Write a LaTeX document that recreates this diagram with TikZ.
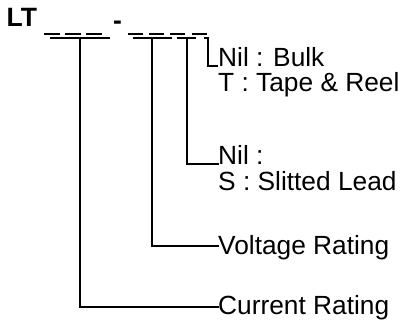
\documentclass[tikz,border=0pt]{standalone}
\usepackage{fontspec}
\setmainfont{Liberation Sans}
\begin{document}
\begin{tikzpicture}[x=1pt,y=-1pt,
  lbl/.style={inner sep=0pt,anchor=base west,font=\fontsize{26.3}{27}\selectfont},
  boldlbl/.style={inner sep=0pt,anchor=base west,font=\fontsize{26.5}{27}\selectfont\bfseries},
  dashline/.style={line width=1.5pt},
  conn/.style={line width=1.9pt}]
\useasboundingbox (0,0) rectangle (402,324);
% heading
\node[boldlbl] (lt) at (6.5,27) {LT};
\node[boldlbl] (hy) at (113,30) {-};
% placeholder dashes
\foreach \a/\b in {44/60,65/81,86/102,128/143,149/164,170/185,192/207}
  \draw[dashline] (\a,34) -- (\b,34);
% labels
\node[lbl] (bulk) at (218,66) {Nil : Bulk};
\node[lbl] (tape) at (218,91) {T : Tape \& Reel};
\node[lbl] (nil) at (218,164) {Nil :};
\node[lbl] (slit) at (218,190) {S : Slitted Lead};
\node[lbl] (volt) at (218,254) {Voltage Rating};
\node[lbl] (cur) at (218,314) {Current Rating};
% junction coordinates
\coordinate (b1l) at (50,38);  \coordinate (b1r) at (110,38); \coordinate (j1) at (80,38);
\coordinate (b2l) at (133,38); \coordinate (b2r) at (172,38); \coordinate (j2) at (152,38);
\coordinate (b3l) at (177,38); \coordinate (b3r) at (196,38); \coordinate (j3) at (187,38);
\coordinate (b4l) at (204,38); \coordinate (j4) at (208,38);
\coordinate (e1) at (219,307);
\coordinate (e2) at (219,246);
\coordinate (e3) at (219,164);
\coordinate (e4) at (218,66);
% connectors
\draw[conn] (b1l) -- (b1r);
\draw[conn] (j1) |- (e1);
\draw[conn] (b2l) -- (b2r);
\draw[conn] (j2) |- (e2);
\draw[conn] (b3l) -- (b3r);
\draw[conn] (j3) |- (e3);
\draw[conn] (b4l) -- (j4) |- (e4);
\end{tikzpicture}
\end{document}
